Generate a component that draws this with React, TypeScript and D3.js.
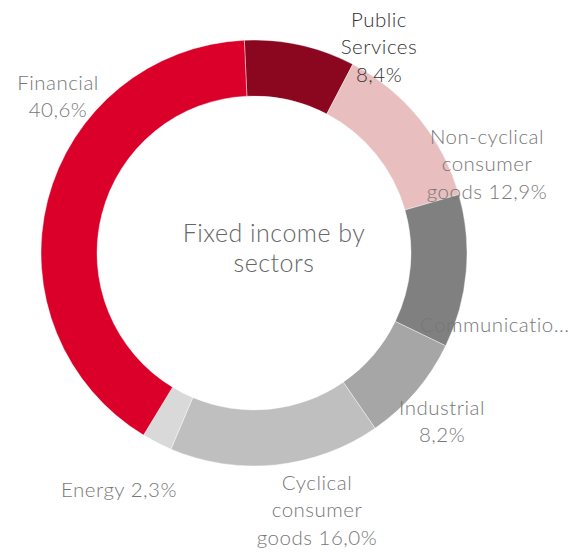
import React from "react";
import * as d3 from "d3";

const categories = [
  "Public Services",
  "Non-cyclical consumer goods",
  "Communication",
  "Industrial",
  "Cyclical consumer goods",
  "Energy",
  "Financial",
];
const values = [8.4, 12.9, 11.6, 8.2, 16.0, 2.3, 40.6];
const valueLabels = ["8,4%", "12,9%", "11,6%", "8,2%", "16,0%", "2,3%", "40,6%"];
const colors = ["#8B0720", "#E8BEBE", "#808080", "#A6A6A6", "#BFBFBF", "#D9D9D9", "#DB0029"];
const titleLines = ["Fixed income by", "sectors"];

// label text lines and layout (anchor x, first baseline y, text-anchor, color)
const labelLines = [
  ["Public", "Services", "8,4%"],
  ["Non-cyclical", "consumer", "goods 12,9%"],
  ["Communicatio..."],
  ["Industrial", "8,2%"],
  ["Cyclical", "consumer", "goods 16,0%"],
  ["Energy 2,3%"],
  ["Financial", "40,6%"],
];
const labelLayout = [
  { x: 379, y: 27, anchor: "middle", color: "#333333" },
  { x: 487, y: 144, anchor: "middle", color: "#777777" },
  { x: 420, y: 332, anchor: "start", color: "#777777" },
  { x: 442, y: 415, anchor: "middle", color: "#777777" },
  { x: 317, y: 490, anchor: "middle", color: "#777777" },
  { x: 119, y: 497, anchor: "middle", color: "#777777" },
  { x: 58, y: 90, anchor: "middle", color: "#777777" },
];

const W = 575;
const H = 552;
const CX = 254;
const CY = 253;
const R_OUT = 213;
const R_IN = 157;
const START = (-2.6 * Math.PI) / 180;
const FONT = "Lato, 'Open Sans', sans-serif";

export default function App() {
  const pie = d3
    .pie<number>()
    .sort(null)
    .value((d) => d)
    .startAngle(START)
    .endAngle(START + 2 * Math.PI);
  const arcs = pie(values);
  const arc = d3.arc<d3.PieArcDatum<number>>().innerRadius(R_IN).outerRadius(R_OUT);

  return (
    <svg
      width={W}
      height={H}
      style={{ position: "absolute", left: 0, top: 0, background: "#fff" }}
    >
      <g transform={`translate(${CX},${CY})`}>
        {arcs.map((a, i) => (
          <path
            key={categories[i]}
            d={arc(a) || ""}
            fill={colors[i]}
            stroke="#ffffff"
            strokeWidth={0.4}
          >
            <title>{`${categories[i]} ${valueLabels[i]}`}</title>
          </path>
        ))}
      </g>
      {labelLines.map((lines, i) => (
        <text
          key={i}
          x={labelLayout[i].x}
          y={labelLayout[i].y}
          textAnchor={labelLayout[i].anchor}
          fill={labelLayout[i].color}
          fontFamily={FONT}
          fontWeight={300}
          fontSize={20.5}
          letterSpacing={0.5}
        >
          {lines.map((l, j) => (
            <tspan key={j} x={labelLayout[i].x} dy={j === 0 ? 0 : 27.3}>
              {l}
            </tspan>
          ))}
        </text>
      ))}
      <text
        x={274}
        y={242}
        textAnchor="middle"
        fill="#666666"
        fontFamily={FONT}
        fontWeight={300}
        fontSize={25}
        letterSpacing={0.5}
      >
        {titleLines.map((l, j) => (
          <tspan key={j} x={274} dy={j === 0 ? 0 : 30}>
            {l}
          </tspan>
        ))}
      </text>
    </svg>
  );
}
